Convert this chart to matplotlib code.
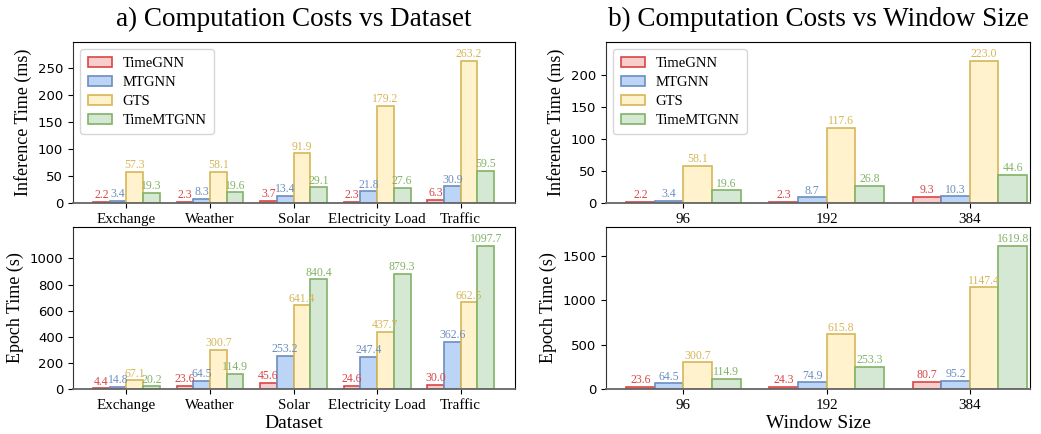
import numpy as np
import matplotlib
matplotlib.use("Agg")
import matplotlib.pyplot as plt

# datos
modelos = ['TimeGNN', 'MTGNN', 'GTS', 'TimeMTGNN']
datasets = ['Exchange', 'Weather', 'Solar', 'Electricity Load', 'Traffic']
ventanas = ['96', '192', '384']

inf_dataset = {
    'TimeGNN': [2.2, 2.3, 3.7, 2.3, 6.3],
    'MTGNN': [3.4, 8.3, 13.4, 21.8, 30.9],
    'GTS': [57.3, 58.1, 91.9, 179.2, 263.2],
    'TimeMTGNN': [19.3, 19.6, 29.1, 27.6, 59.5],
}
epoch_dataset = {
    'TimeGNN': [4.4, 23.6, 45.6, 24.6, 30.0],
    'MTGNN': [14.8, 64.5, 253.2, 247.4, 362.6],
    'GTS': [67.1, 300.7, 641.4, 437.7, 662.5],
    'TimeMTGNN': [20.2, 114.9, 840.4, 879.3, 1097.7],
}
inf_ventana = {
    'TimeGNN': [2.2, 2.3, 9.3],
    'MTGNN': [3.4, 8.7, 10.3],
    'GTS': [58.1, 117.6, 223.0],
    'TimeMTGNN': [19.6, 26.8, 44.6],
}
epoch_ventana = {
    'TimeGNN': [23.6, 24.3, 80.7],
    'MTGNN': [64.5, 74.9, 95.2],
    'GTS': [300.7, 615.8, 1147.4],
    'TimeMTGNN': [114.9, 253.3, 1619.8],
}

relleno = ['#f8cecc', '#bcd4f6', '#fff2cc', '#d5e8d4']
borde = ['#d94545', '#6c8ebf', '#d6b656', '#82b366']

serif = 'Liberation Serif'
W, H = 1041, 434

fig = plt.figure(figsize=(W / 100, H / 100), dpi=100)

def caja(x0, y0, x1, y1):
    return [x0 / W, 1 - y1 / H, (x1 - x0) / W, (y1 - y0) / H]

def barras(ax, cats, datos, xlim, ylabel, xlabel=None, leyenda=False):
    x = np.arange(len(cats))
    ancho = 0.2
    for i, m in enumerate(modelos):
        pos = x + (i - 1.5) * ancho
        vals = datos[m]
        ax.bar(pos, vals, ancho, color=relleno[i], edgecolor=borde[i],
               linewidth=1.2, label=m, zorder=2)
        for p, v in zip(pos, vals):
            ax.annotate(f'{v:.1f}', (p, v), xytext=(0, 0.5), textcoords='offset points',
                        ha='center', va='bottom', fontsize=8.5, color=borde[i], family=serif)
    maximo = max(max(v) for v in datos.values())
    ax.set_ylim(0, maximo * 1.13)
    ax.set_xlim(*xlim)
    ax.set_xticks(x)
    ax.set_xticklabels(cats, family=serif, fontsize=10.8)
    ax.tick_params(axis='y', labelsize=9.5)
    ax.set_ylabel(ylabel, family=serif, fontsize=13)
    if xlabel:
        ax.set_xlabel(xlabel, family=serif, fontsize=14, labelpad=2)
    ax.spines['bottom'].set_color('#666666')
    ax.spines['bottom'].set_linewidth(1.3)
    ax.spines['left'].set_color('#333333')
    if leyenda:
        ax.legend(loc='upper left', prop={'family': serif, 'size': 10.5},
                  handlelength=1.7, handletextpad=0.7, labelspacing=0.4, borderpad=0.5)

ax1 = fig.add_axes(caja(73, 42, 515, 203))
barras(ax1, datasets, inf_dataset, (-0.64, 4.65), 'Inference Time (ms)', leyenda=True)
ax1.set_yticks(np.arange(0, 251, 50))

ax2 = fig.add_axes(caja(73, 227, 515, 389))
barras(ax2, datasets, epoch_dataset, (-0.64, 4.65), 'Epoch Time (s)', xlabel='Dataset')
ax2.set_yticks(np.arange(0, 1001, 200))

ax3 = fig.add_axes(caja(606, 42, 1030, 203))
barras(ax3, ventanas, inf_ventana, (-0.54, 2.42), 'Inference Time (ms)', leyenda=True)
ax3.set_yticks(np.arange(0, 201, 50))

ax4 = fig.add_axes(caja(606, 227, 1030, 389))
barras(ax4, ventanas, epoch_ventana, (-0.54, 2.42), 'Epoch Time (s)', xlabel='Window Size')
ax4.set_yticks(np.arange(0, 1501, 500))

fig.text((73 + 515) / 2 / W, 1 - 19 / H, 'a) Computation Costs vs Dataset',
         ha='center', va='center', family=serif, fontsize=19.5)
fig.text((606 + 1030) / 2 / W, 1 - 19 / H, 'b) Computation Costs vs Window Size',
         ha='center', va='center', family=serif, fontsize=19.5)

fig.savefig('out.png', dpi=100)
